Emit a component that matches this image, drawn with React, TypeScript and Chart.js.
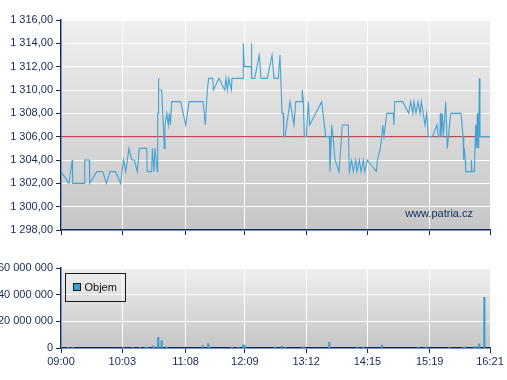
import React, { useEffect, useRef } from 'react';
import { Chart, registerables } from 'chart.js';

Chart.register(...registerables);

// ---------- data ----------
const X_TICK_LABELS = ['09:00', '10:03', '11:08', '12:09', '13:12', '14:15', '15:19', '16:21'];

const PRICE_MIN = 1298;
const PRICE_MAX = 1316;
const PRICE_STEP = 2;
const REF_PRICE = 1306;

// minutes after 09:00
const PRICE_TIMES = [
  0, 8.2, 11.6, 12.0, 24.4, 24.4, 29.1, 29.5, 36.7, 42.9, 46.6, 50.4, 56.0, 61.4, 62.7, 64.3, 66.5, 69.9, 72.7, 75.4,
  78.4, 80.5, 88.1, 88.7, 93.2, 93.9, 95.6, 96.6, 99.0, 99.4, 100.0, 100.0, 100.7, 103.5, 106.2, 106.9, 108.7, 110.3, 111.3, 112.4,
  113.8, 123.0, 128.2, 131.6, 146.0, 148.3, 150.4, 151.8, 156.0, 156.6, 162.4, 168.3, 169.6, 171.0, 172.4, 175.1, 175.8, 187.4, 187.4, 188.4,
  195.6, 195.6, 196.3, 199.1, 203.8, 205.6, 212.1, 216.9, 219.0, 223.4, 225.1, 227.2, 228.5, 228.9, 230.3, 232.0, 235.4, 239.5, 241.3, 248.0,
  248.0, 249.1, 250.1, 252.2, 254.2, 255.7, 268.0, 272.1, 275.8, 276.5, 278.3, 279.6, 281.7, 285.8, 289.2, 295.3, 296.4, 298.8, 300.5, 303.0,
  304.3, 306.7, 308.4, 310.8, 312.2, 314.9, 324.1, 325.2, 328.2, 329.7, 330.7, 332.0, 334.8, 341.6, 342.3, 343.0, 351.3, 357.4, 359.5, 361.6,
  362.9, 364.9, 367.0, 369.1, 370.4, 374.2, 375.9, 377.6, 381.7, 386.5, 387.9, 389.6, 389.9, 390.6, 392.0, 393.0, 395.5, 397.1, 400.6, 411.2,
  413.3, 414.0, 414.6, 415.6, 416.0, 421.5, 421.8, 422.5, 424.9, 426.3, 426.6, 427.4, 428.0, 428.4, 429.0, 429.4, 430.0, 430.7, 441.0,
];

const PRICES = [
  1303, 1302, 1304, 1302, 1302, 1304, 1304, 1302, 1303, 1303, 1302, 1303, 1303, 1302, 1303, 1304, 1303, 1305, 1304, 1304,
  1303, 1305, 1305, 1303, 1303, 1305, 1303, 1305, 1303, 1308, 1308, 1311, 1310, 1310, 1305, 1307, 1308, 1307, 1308, 1307,
  1309, 1309, 1307, 1309, 1309, 1307, 1310, 1311, 1311, 1310, 1311, 1310, 1311, 1310, 1311, 1310, 1311, 1311, 1314, 1312,
  1312, 1314, 1311, 1311, 1313, 1311, 1311, 1313, 1311, 1311, 1313, 1308, 1308, 1306, 1306, 1307, 1309, 1307, 1309, 1309,
  1310, 1309, 1306, 1306, 1309, 1307, 1309, 1306, 1306, 1303, 1307, 1306, 1304, 1303, 1307, 1307, 1303, 1304, 1303, 1304,
  1303, 1304, 1303, 1304, 1303, 1304, 1303, 1304, 1305, 1306, 1307, 1306, 1308, 1308, 1307, 1309, 1309, 1308, 1309, 1308,
  1309, 1308, 1309, 1308, 1309, 1307, 1308, 1306, 1306, 1307, 1306, 1306, 1308, 1306, 1308, 1306, 1309, 1305, 1308, 1308,
  1306, 1304, 1305, 1304, 1303, 1303, 1304, 1303, 1303, 1307, 1305, 1306, 1308, 1305, 1308, 1305, 1311, 1306, 1306,
];

const VOLUME_MAX = 60000000;
const VOLUME_STEP = 20000000;
const VOLUME_TIMES = [
  0, 7.5, 12, 64, 73.7, 81.2, 87.1, 89.1, 94.3, 95.6, 100, 103.5, 108.7, 145.7, 151.4, 152.5, 175.5, 182.3, 187.4, 189.2,
  220, 226.9, 230.6, 248, 250.1, 275.8, 304.6, 310.8, 329.7, 367.3, 375.2, 399.2, 413.6, 415.3, 424.9, 427.3, 430, 435.2,
];
const VOLUMES = [
  700000, 500000, 600000, 600000, 500000, 500000, 600000, 700000, 1500000, 800000, 8000000, 5500000, 700000, 1800000, 3200000, 800000, 600000, 600000, 2500000, 1600000,
  700000, 1300000, 500000, 800000, 800000, 4200000, 600000, 700000, 2200000, 600000, 700000, 500000, 700000, 700000, 900000, 1000000, 3000000, 38000000,
];

const VOLUME_LABEL = 'Objem';
const WATERMARK = 'www.patria.cz';

// ---------- helpers ----------
const toMinutes = (s: string) => {
  const [h, m] = s.split(':').map(Number);
  return (h - 9) * 60 + m;
};
const X_TICK_MINUTES = X_TICK_LABELS.map(toMinutes);
const X_MAX = X_TICK_MINUTES[X_TICK_MINUTES.length - 1];

const group = (s: string) => s.replace(/\B(?=(\d{3})+(?!\d))/g, ' ');
const fmtPrice = (v: number) => {
  const [i, d] = Number(v).toFixed(2).split('.');
  return group(i) + ',' + d;
};
const fmtVolume = (v: number) => group(String(Math.round(Number(v))));

const FONT = 'Liberation Sans, Arial, Helvetica, sans-serif';
const NAVY = '#0d2a5e';
const TEXT = '#132a5a';
const LINE_COLOR = '#45a3d3';
const BAR_COLOR = '#3a9ed2';
const REF_COLOR = '#a8302f';

const bgPlugin = {
  id: 'plotBg',
  beforeDraw(chart: any) {
    const { ctx, chartArea: a } = chart;
    if (!a) return;
    const g = ctx.createLinearGradient(0, a.top, 0, a.bottom);
    g.addColorStop(0, '#efefef');
    g.addColorStop(1, '#c6c6c6');
    ctx.save();
    ctx.fillStyle = g;
    ctx.fillRect(a.left, a.top, a.right - a.left, a.bottom - a.top);
    ctx.restore();
  },
};

const watermarkPlugin = {
  id: 'watermark',
  beforeDatasetsDraw(chart: any) {
    const { ctx, chartArea: a } = chart;
    ctx.save();
    ctx.font = `11px ${FONT}`;
    ctx.fillStyle = TEXT;
    ctx.textAlign = 'right';
    ctx.textBaseline = 'alphabetic';
    ctx.fillText(WATERMARK, a.right - 17, a.bottom - 13);
    ctx.restore();
  },
};

const boxLegendPlugin = {
  id: 'boxLegend',
  afterDatasetsDraw(chart: any) {
    const { ctx, chartArea: a } = chart;
    const ds = chart.data.datasets[0];
    const x = Math.round(a.left + 4) + 0.5;
    const y = Math.round(a.top + 5) + 0.5;
    ctx.save();
    ctx.strokeStyle = '#1a1a1a';
    ctx.lineWidth = 1;
    ctx.strokeRect(x, y, 60, 28);
    ctx.fillStyle = ds.backgroundColor;
    ctx.fillRect(x + 8, y + 10, 7, 7);
    ctx.strokeRect(x + 8, y + 10, 7, 7);
    ctx.font = `11px ${FONT}`;
    ctx.fillStyle = '#111111';
    ctx.textAlign = 'left';
    ctx.textBaseline = 'middle';
    ctx.fillText(ds.label, x + 19, y + 14);
    ctx.restore();
  },
};

const gridCommon = {
  color: '#ffffff',
  lineWidth: 1,
  tickColor: NAVY,
  tickLength: 5,
  drawTicks: true,
};

export default function App() {
  const topRef = useRef<HTMLCanvasElement>(null);
  const botRef = useRef<HTMLCanvasElement>(null);

  useEffect(() => {
    const top = new Chart(topRef.current as HTMLCanvasElement, {
      type: 'line',
      data: {
        datasets: [
          {
            label: 'Cena',
            data: PRICE_TIMES.map((t, i) => ({ x: t, y: PRICES[i] })),
            borderColor: LINE_COLOR,
            borderWidth: 1.1,
            pointRadius: 0,
            tension: 0,
            fill: false,
          },
          {
            label: 'Ref',
            data: [
              { x: 0, y: REF_PRICE },
              { x: X_MAX, y: REF_PRICE },
            ],
            borderColor: REF_COLOR,
            borderWidth: 1,
            pointRadius: 0,
            fill: false,
          },
        ],
      },
      options: {
        animation: false,
        responsive: true,
        maintainAspectRatio: false,
        layout: { padding: { left: 0, right: 17, top: 20, bottom: 0 } },
        plugins: { legend: { display: false }, tooltip: { enabled: false } },
        scales: {
          x: {
            type: 'linear',
            min: 0,
            max: X_MAX,
            afterBuildTicks: (s: any) => {
              s.ticks = X_TICK_MINUTES.map((v) => ({ value: v }));
            },
            ticks: { display: false },
            grid: gridCommon,
            border: { color: NAVY, width: 1.5 },
            afterFit: (s: any) => {
              s.height = 15;
            },
          },
          y: {
            type: 'linear',
            min: PRICE_MIN,
            max: PRICE_MAX,
            ticks: {
              stepSize: PRICE_STEP,
              color: TEXT,
              padding: 3,
              font: { size: 11, family: FONT },
              callback: (v: any) => fmtPrice(v),
            },
            grid: gridCommon,
            border: { color: NAVY, width: 1.5 },
            afterFit: (s: any) => {
              s.width = 61;
            },
          },
        },
      },
      plugins: [bgPlugin, watermarkPlugin],
    } as any);

    const bot = new Chart(botRef.current as HTMLCanvasElement, {
      type: 'bar',
      data: {
        datasets: [
          {
            label: VOLUME_LABEL,
            data: VOLUME_TIMES.map((t, i) => ({ x: t, y: VOLUMES[i] })),
            backgroundColor: BAR_COLOR,
            borderWidth: 0,
            barThickness: 1.5,
          },
        ],
      },
      options: {
        animation: false,
        responsive: true,
        maintainAspectRatio: false,
        layout: { padding: { left: 0, right: 17, top: 23, bottom: 0 } },
        plugins: { legend: { display: false }, tooltip: { enabled: false } },
        scales: {
          x: {
            type: 'linear',
            min: 0,
            max: X_MAX,
            offset: false,
            afterBuildTicks: (s: any) => {
              s.ticks = X_TICK_MINUTES.map((v) => ({ value: v }));
            },
            ticks: {
              color: TEXT,
              padding: 2,
              maxRotation: 0,
              autoSkip: false,
              font: { size: 11, family: FONT },
              callback: (v: any) => {
                const i = X_TICK_MINUTES.indexOf(Number(v));
                return i >= 0 ? X_TICK_LABELS[i] : '';
              },
            },
            grid: { ...gridCommon, offset: false },
            border: { color: NAVY, width: 1.5 },
            afterFit: (s: any) => {
              s.height = 32;
            },
          },
          y: {
            type: 'linear',
            min: 0,
            max: VOLUME_MAX,
            ticks: {
              stepSize: VOLUME_STEP,
              color: TEXT,
              padding: 3,
              font: { size: 11, family: FONT },
              callback: (v: any) => fmtVolume(v),
            },
            grid: gridCommon,
            border: { color: NAVY, width: 1.5 },
            afterFit: (s: any) => {
              s.width = 61;
            },
          },
        },
      },
      plugins: [bgPlugin, boxLegendPlugin],
    } as any);

    return () => {
      top.destroy();
      bot.destroy();
    };
  }, []);

  return (
    <div style={{ position: 'fixed', left: 0, top: 0, width: 507, height: 380, background: '#ffffff' }}>
      <div style={{ position: 'absolute', left: 0, top: 0, width: 507, height: 245 }}>
        <canvas ref={topRef} />
      </div>
      <div style={{ position: 'absolute', left: 0, top: 245, width: 507, height: 135 }}>
        <canvas ref={botRef} />
      </div>
    </div>
  );
}
